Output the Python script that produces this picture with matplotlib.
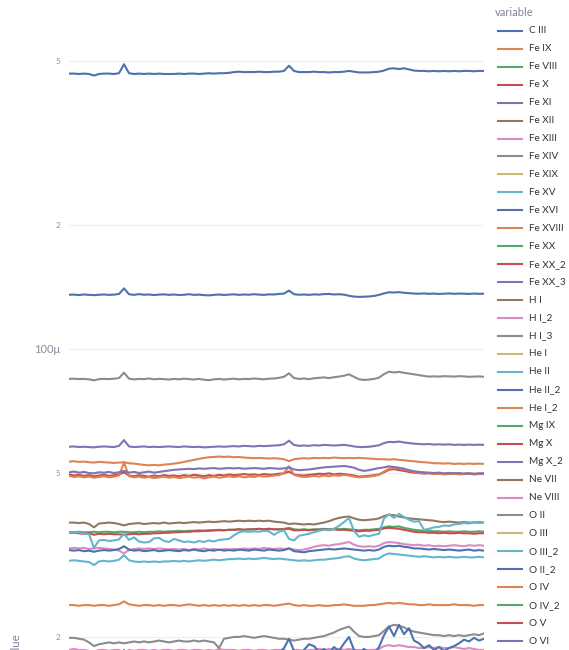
import numpy as np
import matplotlib
matplotlib.use("Agg")
import matplotlib.pyplot as plt
from matplotlib.lines import Line2D
from matplotlib.ticker import NullLocator

plt.rcParams['font.family'] = ['Lato', 'DejaVu Sans']

UNIT = 1e-6  # values below are in micro-units
x_full = list(range(84))
x_coarse = [0, 12, 24, 36, 48, 60, 72, 83]

# ---- visible series (values x 1e-6) ----
c_iii = [466,466,465,466,465, 461, 465,466,466,465,467, 491, 467,465,466,465,466,465,466,465,465,
         465,466,465,466,466,465,466,467,466,467,467,468, 470,471,470,470,470,471,470,470,471,471,
         473,487,473, 470,470,470,471,470,470,469,470,470,471, 473,471, 469,469,469,470,471,
         474,479,480,478,480,477,474, 473,473,472,473,472,473,472,473,472,473,473,472,473,473]
fe_xvi = [135.4,135.5,135.2,135.6,135.3,135.1,135.4,135.6,135.3,135.5,136.0, 140.3,
          135.8,135.3,135.9,135.4,135.6,135.2,135.5,135.7,135.3,
          135.6,135.2,135.4,135.8,135.3,135.5,135.1,134.9,135.3,135.6,135.2,135.5,
          135.7,135.3,135.6,135.4,135.8,135.5,135.3,135.7,135.6,136.0, 136.3,138.6,135.8,
          135.4,135.6,135.3,135.7,135.5,135.9,136.0,135.6,135.8,135.5,
          134.6,134.0,133.8,133.9,134.1,134.5,135.3, 136.4,137.3,137.1,137.4,136.9,136.6,136.3,
          136.2,136.4,136.1,136.3,136.0,136.2,136.4,136.1,136.3,136.2,136.0,136.3,136.1,136.2]
fe_xiv = [84.6,84.7,84.5,84.6,84.4, 83.9, 84.5,84.6,84.5,84.7,85.0, 87.6,
          84.7,84.4,84.6,84.5,84.8,84.4,84.6,84.5,84.3,
          84.6,84.4,84.7,84.5,84.3,84.6,84.2,84.0,84.4,84.6,84.3,84.5,
          84.7,84.4,84.6,84.5,84.8,84.6,84.4,84.7,84.8,85.1, 85.6,87.3,85.0,
          84.6,84.8,84.5,84.9,85.1,85.3,85.0,85.4,85.7,86.1,
          86.8,85.6,84.4,84.1,84.3,84.6,85.2,
          86.9,88.1,87.7,88.0,87.5,87.2,86.8,86.4,86.0,85.7,
          85.8,85.7,85.9,85.8,85.7,85.9,85.8,85.6,85.7,85.8,85.6]
fe_xi = [57.9,58.0,57.8,57.9,57.8,57.7,57.9,58.0,57.9,57.8,58.2, 60.1,
         58.0,57.8,57.9,58.0,57.8,57.9,57.8,57.9,58.0,
         57.9,57.8,58.0,57.9,57.8,57.9,57.7,57.8,57.9,58.0,57.9,58.0,
         58.1,58.0,58.2,58.1,58.0,58.2,58.1,58.2,58.3,58.4, 58.7,59.9,58.5,
         58.2,58.3,58.2,58.4,58.3,58.5,58.4,58.3,58.4,58.5,
         58.3,58.0,57.8,57.8,57.9,58.1,58.4, 59.1,59.5,59.4,59.6,59.3,59.1,58.9,
         58.8,58.7,58.8,58.6,58.7,58.6,58.7,58.5,58.6,58.5,58.6,58.5,58.6,58.5]
fe_ix = [53.3,53.4,53.2,53.3,53.1,53.0,53.2,53.1,53.0,52.9,53.0, 53.1,
         52.8,52.7,52.5,52.3,52.2,52.3,52.2,52.4,52.5,
         52.7,52.9,53.2,53.5,53.8,54.1,54.4,54.6,54.7,54.8,54.7,54.8,
         54.6,54.7,54.5,54.4,54.3,54.4,54.3,54.2,54.3,54.2, 54.0,53.4,54.0,
         54.2,54.3,54.2,54.4,54.3,54.4,54.3,54.5,54.4,54.3,
         54.4,54.3,54.4,54.3,54.2,54.1,54.0, 54.0,53.9,54.0,53.8,53.7,53.5,53.4,
         53.2,53.1,53.0,52.8,52.8,52.7,52.8,52.6,52.7,52.6,52.7,52.6,52.7,52.6]
fe_xx_3 = [50.2,50.4,50.1,50.3,50.0,49.9,50.2,50.1,50.3,50.0,50.2, 50.6,
           50.1,50.3,50.0,50.2,50.4,50.1,50.3,50.5,50.7,
           50.9,51.0,51.1,51.2,51.1,51.3,51.2,51.3,51.4,51.2,51.3,51.4,
           51.3,51.4,51.2,51.3,51.4,51.3,51.2,51.4,51.3,51.2, 51.3,51.6,51.0,
           50.8,50.9,51.0,51.2,51.4,51.6,51.7,51.8,51.9,52.0,
           51.8,51.5,50.9,50.6,50.8,51.1,51.4, 51.6,51.9,51.7,51.5,51.2,50.8,50.5,
           50.3,50.2,50.1,50.0,50.1,49.9,50.0,49.9,50.0,49.8,49.9,49.8,49.9,49.8]
fe_x = [49.6,49.3,49.5,49.2,49.4,49.1,49.3,49.5,49.2,49.4,49.6, 50.2,
        49.3,49.1,49.4,49.2,49.0,49.3,49.1,49.4,49.2,
        49.3,49.1,49.4,49.2,49.5,49.3,49.1,49.4,49.2,49.5,49.3,49.6,
        49.4,49.5,49.7,49.5,49.6,49.4,49.7,49.5,49.6,49.8, 49.9,50.4,49.6,
        49.4,49.3,49.5,49.6,49.8,49.7,49.9,49.6,49.8,49.7,
        49.5,49.3,49.0,49.1,49.2,49.4,49.6, 50.2,50.9,51.1,50.8,50.6,50.3,50.1,
        50.0,49.9,50.0,49.8,49.9,49.7,49.8,49.9,49.7,49.8,49.9,49.7,49.8,49.9]
fe_xviii = [49.2,48.9,49.1,48.8,49.0,48.7,48.9,49.1,48.8,49.0,49.3, 53.0,
            49.1,48.8,49.0,48.7,48.9,48.6,48.8,49.0,48.7,
            48.9,48.6,48.8,49.0,48.7,48.9,48.5,48.8,49.0,48.7,48.9,49.1,
            48.9,49.1,48.8,49.0,48.9,49.2,49.0,49.1,49.3,49.4, 50.0,51.9,49.5,
            49.1,48.9,49.0,49.2,49.0,49.3,49.1,49.4,49.2,49.5,
            49.3,49.0,48.8,48.9,49.0,49.2,49.5, 50.4,51.2,51.4,51.3,51.0,50.7,50.3,
            50.0,49.8,49.9,49.7,49.8,49.6,49.7,49.8,49.6,49.7,49.8,49.6,49.7,49.8]
fe_xii = [37.9,37.9,37.8,37.9,37.6,36.9,37.7,37.8,37.9,37.8,37.6, 37.3,
          37.6,37.7,37.8,37.6,37.7,37.8,37.7,37.9,37.7,
          37.8,37.9,37.8,37.9,38.0,37.9,38.0,38.1,38.0,38.1,38.2,38.1,
          38.2,38.3,38.2,38.3,38.2,38.3,38.2,38.3,38.1,38.0, 37.9,37.6,37.7,
          37.6,37.5,37.6,37.5,37.7,37.9,38.2,38.6,38.9,39.1,
          39.2,38.8,38.5,38.4,38.5,38.6,38.8, 39.3,39.6,39.5,39.2,39.0,38.8,38.7,
          38.6,38.5,38.4,38.3,38.1,38.0,38.1,38.0,37.9,38.0,37.9,37.9,38.0,37.9]
fe_viii = [35.9,35.9,36.0,35.9,35.9,36.0,35.9,36.0,36.0,35.9,36.0, 36.0,
           35.9,35.9,36.0,35.9,36.0,36.0,36.1,36.0,36.1,
           36.1,36.2,36.1,36.2,36.2,36.3,36.2,36.3,36.3,36.4,36.3,36.4,
           36.4,36.5,36.4,36.5,36.5,36.6,36.5,36.6,36.5,36.5, 36.6,36.8,36.5,
           36.4,36.5,36.4,36.5,36.5,36.6,36.5,36.6,36.5,36.6,
           36.5,36.4,36.3,36.4,36.4,36.5,36.6, 36.9,37.1,37.0,37.1,36.8,36.6,36.4,
           36.3,36.2,36.2,36.1,36.1,36.0,36.1,36.0,36.0,36.1,36.0,36.0,36.1,36.0]
fe_xx_2 = [35.8,35.8,35.7,35.6,35.7,35.4,35.6,35.5,35.6,35.5,35.5, 35.4,
           35.5,35.6,35.5,35.6,35.6,35.7,35.7,35.8,35.8,
           35.9,35.9,36.0,36.0,36.1,36.1,36.2,36.2,36.3,36.3,36.3,36.4,
           36.4,36.5,36.4,36.5,36.5,36.6,36.5,36.6,36.5,36.5, 36.5,36.6,36.3,
           36.3,36.4,36.3,36.4,36.4,36.5,36.4,36.5,36.4,36.4,
           36.3,36.2,36.1,36.2,36.2,36.3,36.4, 36.7,36.8,36.7,36.6,36.4,36.2,36.0,
           35.9,35.9,35.8,35.8,35.7,35.8,35.7,35.7,35.8,35.7,35.7,35.6,35.7,35.7]
he_ii = [35.9,35.8,35.9,35.7,35.5, 32.9, 34.3,34.4,34.2,34.3,34.5, 35.6,
         34.4,34.9,34.1,33.9,34.0,34.7,34.8,34.2,34.0,
         34.6,34.3,34.0,34.1,33.9,34.2,34.0,34.3,34.1,34.4,34.5,34.6,
         35.3,35.9,36.1,36.0,36.1,36.0,36.2,36.1,35.4,36.0, 36.3,34.6,34.3,
         35.2,35.4,35.6,35.9,36.2,36.4,36.3,36.6,37.2,38.0,
         38.9,36.2,35.0,35.3,35.1,35.4,35.6, 38.8,39.7,38.9,39.8,39.1,38.5,
         38.1,38.2,36.4,36.6,36.9,37.0,37.3,37.2,37.5,37.6,37.8,37.7,38.0,37.8,37.9]
fe_xiii = [32.8,32.9,32.8,32.9,32.7,32.8,32.9,32.8,32.7,32.6,32.4, 31.9,
           32.5,32.7,32.8,32.7,32.8,32.7,32.8,32.7,32.6,
           32.7,32.6,32.7,32.5,32.7,32.6,32.8,32.6,32.7,32.5,32.7,32.6,
           32.7,32.6,32.8,32.7,32.8,32.7,32.9,32.8,32.7,32.8, 32.7,32.8,32.6,
           32.5,32.6,32.8,33.1,33.3,33.4,33.3,33.5,33.6,33.8,
           34.0,33.5,33.2,33.1,33.2,33.1,33.3, 33.8,34.0,33.9,33.8,33.6,33.5,33.4,
           33.5,33.3,33.4,33.2,33.3,33.2,33.3,33.4,33.3,33.2,33.4,33.3,33.4,33.3]
o_ii_2 = [32.5,32.4,32.5,32.3,32.4,32.2,32.4,32.5,32.4,32.5,32.7, 33.2,
          32.6,32.4,32.5,32.3,32.4,32.5,32.3,32.4,32.5,
          32.4,32.3,32.5,32.4,32.6,32.4,32.3,32.5,32.4,32.6,32.4,32.5,
          32.4,32.6,32.5,32.4,32.6,32.5,32.4,32.6,32.5,32.4, 32.5,32.8,32.3,
          32.2,32.1,32.3,32.4,32.5,32.6,32.7,32.6,32.7,32.8,
          32.7,32.6,32.5,32.4,32.5,32.4,32.6, 33.1,33.3,33.2,33.3,33.1,33.0,32.8,
          32.8,32.7,32.6,32.7,32.6,32.5,32.6,32.5,32.4,32.5,32.6,32.4,32.5,32.4]
fe_xv = [30.6,30.7,30.6,30.5,30.4, 29.9, 30.5,30.6,30.5,30.6,30.8, 31.6,
         30.7,30.5,30.4,30.5,30.4,30.5,30.4,30.5,30.5,
         30.6,30.5,30.6,30.5,30.6,30.7,30.6,30.7,30.8,30.7,30.8,30.9,
         30.9,31.0,30.9,31.0,30.9,31.0,31.1,31.0,30.9,31.0, 30.9,30.8,30.7,
         30.6,30.7,30.6,30.7,30.8,30.8,30.9,31.0,31.1,31.3,
         31.4,31.0,30.8,30.7,30.8,30.9,31.0, 31.6,31.9,31.8,31.7,31.6,31.5,31.4,
         31.3,31.4,31.3,31.2,31.3,31.2,31.3,31.2,31.2,31.3,31.2,31.2,31.3,31.2]
he_i_2 = [23.9,23.9,23.8,23.9,23.9,23.8,23.9,23.9,23.8,23.9,24.0, 24.4,
          24.0,23.9,23.8,23.9,23.9,23.8,23.9,23.8,23.9,
          23.9,23.8,23.9,24.0,23.9,23.8,23.9,23.8,23.9,23.8,23.9,23.8,
          23.9,23.8,23.9,23.8,23.9,23.8,23.9,23.9,23.8,23.9, 24.0,24.1,23.9,
          23.8,23.9,23.8,23.8,23.9,23.8,23.8,23.9,23.9,24.0,
          23.9,23.8,23.8,23.8,23.9,23.9,24.0, 24.1,24.2,24.1,24.2,24.1,24.0,24.0,
          23.9,23.9,24.0,23.9,23.9,23.9,23.9,24.0,23.9,23.9,23.9,23.8,23.9,23.9]
h_i_3 = [19.9,19.9,19.8,19.7,19.4, 19.0, 19.2,19.3,19.4,19.3,19.4, 19.3,
         19.4,19.5,19.4,19.5,19.4,19.5,19.6,19.5,19.4,
         19.5,19.6,19.5,19.5,19.6,19.5,19.6,19.5,19.4,18.8,19.8,19.9,
         20.0,20.0,20.1,20.0,19.9,20.0,20.1,20.0,19.9,19.8, 19.8,19.7,19.6,
         19.7,19.8,19.8,19.9,20.0,20.1,20.3,20.5,20.8,21.0,
         21.2,20.6,20.1,20.0,20.0,20.1,20.2, 20.7,21.2,21.4,21.3,21.1,20.8,20.6,
         20.5,20.4,20.3,20.2,20.2,20.1,20.2,20.1,20.2,20.1,20.2,20.3,20.2,20.4]
h_i_2 = [18.6,18.7,18.6,18.6,18.5,18.4,18.6,18.6,18.5,18.6,18.6, 18.3,
         18.6,18.5,18.6,18.6,18.5,18.6,18.5,18.6,18.6,
         18.5,18.6,18.6,18.5,18.6,18.6,18.5,18.6,18.5,18.7,18.6,18.6,
         18.6,18.5,18.6,18.6,18.5,18.6,18.6,18.5,18.6,18.6, 18.6,18.4,18.6,
         18.6,18.5,18.6,18.6,18.7,18.6,18.7,18.6,18.7,18.6,
         18.7,18.6,18.6,18.5,18.6,18.6,18.7, 19.0,19.1,19.0,19.1,19.0,18.9,18.9,
         18.8,18.8,18.9,18.8,18.9,18.8,18.8,18.9,18.8,18.7,18.8,18.7,18.6,18.6]
he_ii_2 = [17.5,17.3,17.6,17.4,17.2,17.5,17.3,17.6,17.4,17.7,17.5, 18.6,
           17.4,17.6,17.3,17.5,17.8,17.4,17.6,17.3,17.5,
           17.7,17.4,17.6,17.8,17.5,17.3,17.6,17.9,17.5,17.7,17.4,17.8,
           17.6,17.9,18.1,17.7,18.0,17.8,18.2,17.9,18.1,18.3, 18.8,19.8,18.5,
           18.1,18.6,19.2,19.0,18.4,18.7,18.3,18.9,18.5,19.3,
           20.0,18.6,18.3,18.7,18.4,18.2,18.9, 20.2,21.2,20.1,21.4,20.3,21.0,19.6,
           19.3,18.8,19.1,18.6,18.9,18.5,18.8,19.0,19.3,19.7,19.5,19.9,19.6,19.8]

# ---- series lying below the visible window (coarse samples, x 1e-6) ----
fe_xix = [12.1, 12.0, 12.2, 12.1, 12.3, 12.2, 12.4, 12.3]
fe_xx = [8.5, 8.4, 8.6, 8.5, 8.7, 8.6, 8.8, 8.7]
h_i = [15.2, 15.1, 15.3, 15.2, 15.4, 15.3, 15.6, 15.4]
he_i = [9.8, 9.7, 9.9, 9.8, 10.0, 9.9, 10.1, 10.0]
mg_ix = [6.4, 6.3, 6.5, 6.4, 6.6, 6.5, 6.7, 6.6]
mg_x = [14.1, 14.0, 14.2, 14.1, 14.3, 14.2, 14.4, 14.3]
mg_x_2 = [11.0, 10.9, 11.1, 11.0, 11.2, 11.1, 11.3, 11.2]
ne_vii = [13.3, 13.2, 13.4, 13.3, 13.5, 13.4, 13.6, 13.5]
ne_viii = [7.2, 7.1, 7.3, 7.2, 7.4, 7.3, 7.5, 7.4]
o_ii = [5.9, 5.8, 6.0, 5.9, 6.1, 6.0, 6.2, 6.1]
o_iii = [10.4, 10.3, 10.5, 10.4, 10.6, 10.5, 10.7, 10.6]
o_iii_2 = [4.8, 4.7, 4.9, 4.8, 5.0, 4.9, 5.1, 5.0]
o_iv = [16.2, 16.1, 16.3, 16.2, 16.4, 16.3, 16.5, 16.4]
o_iv_2 = [3.9, 3.8, 4.0, 3.9, 4.1, 4.0, 4.2, 4.1]
o_v = [15.7, 15.6, 15.8, 15.7, 15.9, 15.8, 16.0, 15.9]
o_vi = [13.9, 13.8, 14.0, 13.9, 14.1, 14.0, 14.2, 14.1]

names = ["C III", "Fe IX", "Fe VIII", "Fe X", "Fe XI", "Fe XII", "Fe XIII", "Fe XIV",
         "Fe XIX", "Fe XV", "Fe XVI", "Fe XVIII", "Fe XX", "Fe XX_2", "Fe XX_3", "H I",
         "H I_2", "H I_3", "He I", "He II", "He II_2", "He I_2", "Mg IX", "Mg X", "Mg X_2",
         "Ne VII", "Ne VIII", "O II", "O III", "O III_2", "O II_2", "O IV", "O IV_2", "O V", "O VI"]
values = [c_iii, fe_ix, fe_viii, fe_x, fe_xi, fe_xii, fe_xiii, fe_xiv,
          fe_xix, fe_xv, fe_xvi, fe_xviii, fe_xx, fe_xx_2, fe_xx_3, h_i,
          h_i_2, h_i_3, he_i, he_ii, he_ii_2, he_i_2, mg_ix, mg_x, mg_x_2,
          ne_vii, ne_viii, o_ii, o_iii, o_iii_2, o_ii_2, o_iv, o_iv_2, o_v, o_vi]

ytick_vals = [2e-5, 5e-5, 1e-4, 2e-4, 5e-4]
ytick_text = ["2", "5", "100μ", "2", "5"]

palette = ["#4C72B0", "#DD8452", "#55A868", "#C44E52", "#8172B3",
           "#937860", "#DA8BC3", "#8C8C8C", "#CCB974", "#64B5CD"]

W, H = 569, 650
fig = plt.figure(figsize=(W / 100, H / 100), dpi=100)
fig.patch.set_facecolor("white")

plot_left, plot_right, plot_top, plot_bottom = 69, 484, 5, 1288
ax = fig.add_axes([plot_left / W, (H - plot_bottom) / H,
                   (plot_right - plot_left) / W, (plot_bottom - plot_top) / H])

for i, (name, v) in enumerate(zip(names, values)):
    xs = x_full if len(v) == len(x_full) else x_coarse
    assert len(v) == len(xs), (name, len(v))
    ax.plot(xs, np.array(v) * UNIT, color=palette[i % 10], lw=1.5,
            solid_joinstyle="round", zorder=2 + i * 0.01)

ax.set_yscale("log")
px_per_decade = 412.0
ymax = 5e-4 * 10 ** ((61 - plot_top) / px_per_decade)
ymin = ymax / 10 ** ((plot_bottom - plot_top) / px_per_decade)
ax.set_ylim(ymin, ymax)
ax.set_xlim(0, 83)

ax.set_yticks(ytick_vals)
ax.set_yticklabels(ytick_text)
ax.yaxis.set_minor_locator(NullLocator())
for lbl, t in zip(ax.get_yticklabels(), ytick_vals):
    major = abs(np.log10(t) - round(np.log10(t))) < 1e-6
    lbl.set_fontsize(8.0 if major else 5.8)
    lbl.set_color("#8a8d9c")
    lbl.set_family(["Lato", "DejaVu Sans"])
ax.tick_params(axis="y", length=0, pad=6)
ax.set_xticks([])
ax.grid(axis="y", color="#eceef3", lw=0.8, zorder=0)
for s in ax.spines.values():
    s.set_visible(False)

fig.text(16 / W, 1 - 646.5 / H, "value", rotation=90, ha="center", va="center",
         fontsize=8.2, color="#808495")

# legend
fig.text(495 / W, 1 - 12 / H, "variable", ha="left", va="center",
         fontsize=8, color="#808495")
for i, name in enumerate(names):
    yp = 30.8 + i * 17.95
    fig.add_artist(Line2D([498 / W, 522 / W], [1 - yp / H] * 2,
                          color=palette[i % 10], lw=1.5, transform=fig.transFigure))
    fig.text(529 / W, 1 - yp / H, name, ha="left", va="center",
             fontsize=7.2, color="#31333f")

fig.savefig("out.png", dpi=100)
